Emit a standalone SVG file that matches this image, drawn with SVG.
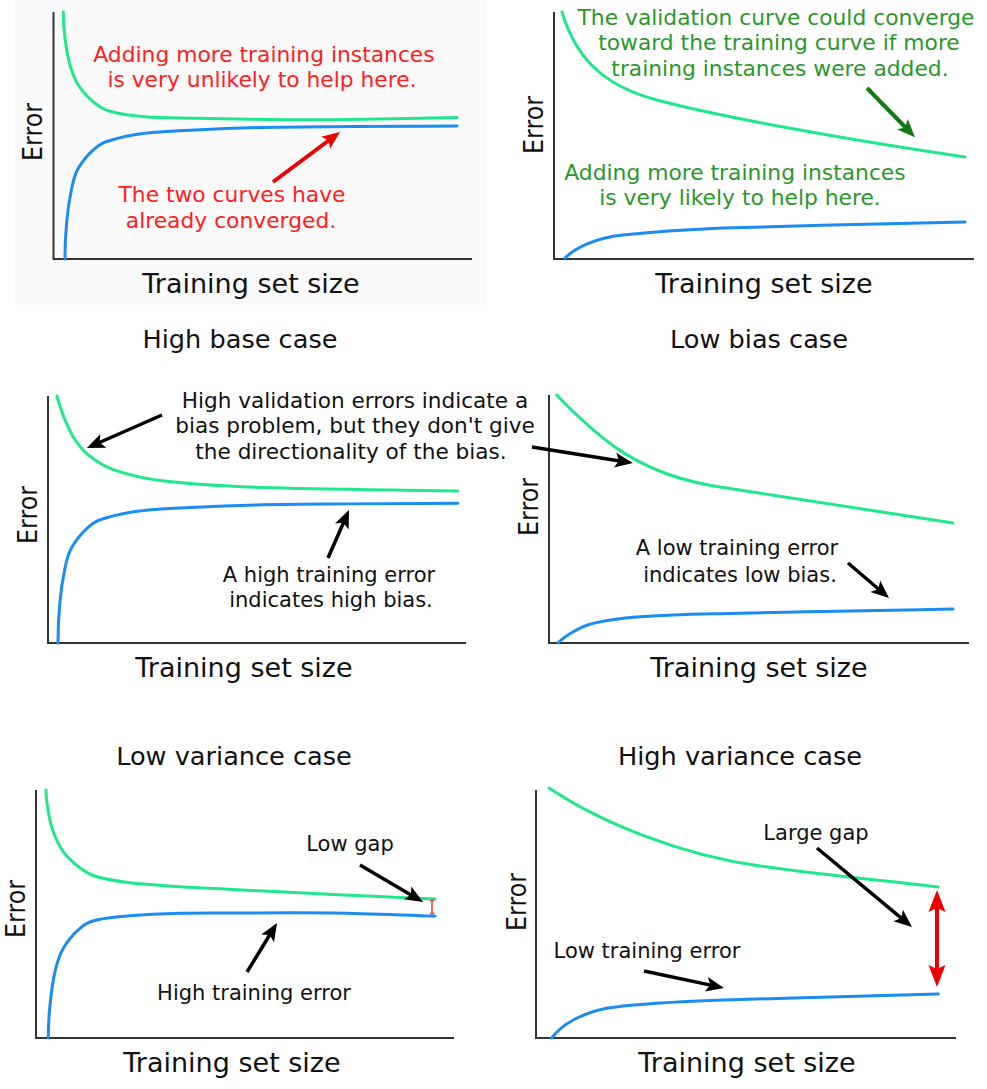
<svg xmlns="http://www.w3.org/2000/svg" width="987" height="1089" viewBox="0 0 987 1089">
<defs>
<style>
.ax{stroke:#333;stroke-width:2;fill:none}
.val{stroke:#1ee88c;stroke-width:3;fill:none;stroke-linecap:round}
.trn{stroke:#1a8cf2;stroke-width:3;fill:none;stroke-linecap:round}
text{font-family:"DejaVu Sans","Liberation Sans",sans-serif;text-anchor:middle}
.lbl{font-size:27px;fill:#111}
.ttl{font-size:25.6px;fill:#111}
.ann{font-size:21px;fill:#111}
.ann2{font-size:21.6px;fill:#111}
.red{font-size:21.8px;fill:#ff2020}
.grn{font-size:21.8px;fill:#2a982a}
.ab{stroke:#000;stroke-width:3.5;fill:none}
</style>
<marker id="ahB" viewBox="-10 -9 22 18" refX="0" refY="0" markerWidth="22" markerHeight="18" markerUnits="userSpaceOnUse" orient="auto"><path d="M10,0 L-8,-7.5 L-4,0 L-8,7.5 Z" fill="#000"/></marker>
<marker id="ahR" viewBox="-10 -9 22 18" refX="0" refY="0" markerWidth="22" markerHeight="18" markerUnits="userSpaceOnUse" orient="auto"><path d="M10,0 L-8,-7.5 L-4,0 L-8,7.5 Z" fill="#ee0000"/></marker>
<marker id="ahG" viewBox="-10 -9 22 18" refX="0" refY="0" markerWidth="22" markerHeight="18" markerUnits="userSpaceOnUse" orient="auto"><path d="M10,0 L-8,-7.5 L-4,0 L-8,7.5 Z" fill="#137a13"/></marker>
<marker id="ahRB" viewBox="-12 -10 26 20" refX="0" refY="0" markerWidth="26" markerHeight="20" markerUnits="userSpaceOnUse" orient="auto-start-reverse"><path d="M12,0 L-10,-8.5 L-6,0 L-10,8.5 Z" fill="#ee0000"/></marker>
</defs>
<rect width="987" height="1089" fill="#fff"/>

<g id="panel-high-bias">
<rect x="15" y="0" width="472" height="305" fill="#fafafa"/>
<path class="ax" d="M53.5,12 V259 H472"/>
<path class="val" d="M63.3,12 C63.3,20.8 63.9,29.5 65,38.3 C66.1,47.1 67.8,57.2 70,65 C72.2,72.8 74.1,78.6 78.3,85 C82.5,91.4 89.4,98.9 95,103.3 C100.6,107.8 103.4,109.5 111.7,111.7 C120,113.9 131.1,115.6 145,116.7 C158.9,117.8 174.2,117.8 195,118.3 C215.8,118.8 244.2,119.3 270,119.5 C295.8,119.7 318.8,119.8 350,119.5 C381.2,119.2 421.3,118.2 457,117.5"/>
<path class="trn" d="M65,259 C65,246.6 65.6,233.5 66.7,221.7 C67.8,209.9 69.8,197.2 71.7,188.3 C73.6,179.4 74.4,175 78.3,168.3 C82.2,161.6 89.4,153 95,148.3 C100.6,143.6 103.4,142.5 111.7,140 C120,137.5 131.1,135 145,133.3 C158.9,131.6 175.8,131 195,130 C214.2,129 234.2,128.1 260,127.5 C285.8,126.9 317.2,126.8 350,126.5 C382.8,126.3 421.3,126.2 457,126"/>
<text class="lbl" transform="translate(42,132) rotate(-90)" textLength="58" lengthAdjust="spacingAndGlyphs">Error</text>
<text class="lbl" x="251" y="293">Training set size</text>
<text class="ttl" x="240" y="348">High base case</text>
<text class="red" x="264" y="62">Adding more training instances</text>
<text class="red" x="262" y="87">is very unlikely to help here.</text>
<text class="red" x="232" y="202">The two curves have</text>
<text class="red" x="231" y="228">already converged.</text>
</g>

<g id="panel-low-bias">
<path class="ax" d="M554,12 V259 H974"/>
<path class="val" d="M562,12 C575,55 600,85 657,100 C720,117 850,140 965,157"/>
<path class="trn" d="M565,258 C575,248 595,238 623,235 C660,231 700,229 723,228 C800,226 900,223 965,222"/>
<text class="lbl" transform="translate(543,125) rotate(-90)" textLength="58" lengthAdjust="spacingAndGlyphs">Error</text>
<text class="lbl" x="764" y="293">Training set size</text>
<text class="ttl" x="759" y="348">Low bias case</text>
<text class="grn" x="776" y="25">The validation curve could converge</text>
<text class="grn" x="779" y="50">toward the training curve if more</text>
<text class="grn" x="780" y="76">training instances were added.</text>
<text class="grn" x="735" y="180">Adding more training instances</text>
<text class="grn" x="740" y="205">is very likely to help here.</text>
</g>

<g id="panel-low-variance">
<path class="ax" d="M48,396 V643 H466"/>
<path class="val" d="M57,396 C57.6,399.3 58.6,401.8 60,406 C61.4,410.2 63.1,415.5 65.5,421 C67.9,426.5 70.7,433.3 74.5,439 C78.3,444.7 82.2,450 88.5,455 C94.8,460.1 100.2,465 112.5,469.3 C124.8,473.6 137.5,477.8 162.5,480.8 C187.5,483.9 213.25,485.9 262.5,487.6 C311.75,489.3 392.8,489.9 458,491"/>
<path class="trn" vector-effect="non-scaling-stroke" transform="matrix(1.02,0,0,1.05,-8.3,371.05)" d="M65,259 C65,246.6 65.6,233.5 66.7,221.7 C67.8,209.9 69.8,197.2 71.7,188.3 C73.6,179.4 74.4,175 78.3,168.3 C82.2,161.6 89.4,153 95,148.3 C100.6,143.6 103.4,142.5 111.7,140 C120,137.5 131.1,135 145,133.3 C158.9,131.6 175.8,131 195,130 C214.2,129 234.2,128.1 260,127.5 C285.8,126.9 317.2,126.8 350,126.5 C382.8,126.3 421.3,126.2 457,126"/>
<text class="lbl" transform="translate(37,515) rotate(-90)" textLength="58" lengthAdjust="spacingAndGlyphs">Error</text>
<text class="lbl" x="244" y="677">Training set size</text>
<text class="ttl" x="234" y="765">Low variance case</text>
<text class="ann" x="329" y="582">A high training error</text>
<text class="ann" x="331" y="607">indicates high bias.</text>
</g>

<g id="bias-note">
<text class="ann2" x="355" y="408">High validation errors indicate a</text>
<text class="ann2" x="355" y="433">bias problem, but they don't give</text>
<text class="ann2" x="351" y="459">the directionality of the bias.</text>
</g>

<g id="panel-high-variance">
<path class="ax" d="M549,395 V643 H969"/>
<path class="val" d="M556.7,395 C600,440 640,475 720,487 C800,499 880,511 953,523"/>
<path class="trn" d="M558,643 C562,638.5 568,634.8 573.3,631.7 C578.6,628.6 581.7,626.5 590,624.3 C598.3,622.1 609.4,619.85 623.3,618.3 C637.2,616.75 653.85,615.8 673.3,615 C692.75,614.2 710.55,614 740,613.3 C769.45,612.6 814.5,611.7 850,611 C885.5,610.3 918.7,609.7 953,609"/>
<text class="lbl" transform="translate(538,507) rotate(-90)" textLength="58" lengthAdjust="spacingAndGlyphs">Error</text>
<text class="lbl" x="759" y="677">Training set size</text>
<text class="ttl" x="740" y="765">High variance case</text>
<text class="ann" x="737" y="555">A low training error</text>
<text class="ann" x="740" y="582">indicates low bias.</text>
</g>

<g id="panel-low-gap">
<path class="ax" d="M36,790 V1038 H454"/>
<path class="val" d="M46,790 C46,797.2 47.1,804.75 48.3,811.7 C49.5,818.65 50.8,825 53.3,831.7 C55.8,838.4 58.85,845.65 63.3,851.7 C67.75,857.75 74.4,863.8 80,868 C85.6,872.2 88.4,874.25 96.7,876.7 C105,879.15 116.1,881 130,882.7 C143.9,884.4 162.8,885.6 180,886.7 C197.2,887.8 207.5,888.2 233,889.5 C258.5,890.8 299.3,892.9 333,894.5 C366.7,896.1 401,897.5 435,899"/>
<path class="trn" d="M48.3,1038 C48.3,1027 48.9,1016.1 50,1005 C51.1,993.95 52.8,981.2 55,971.7 C57.2,962.25 59.1,955.5 63.3,948.3 C67.5,941.1 74.4,933 80,928.3 C85.6,923.6 88.4,922.1 96.7,920 C105,917.9 116.1,916.8 130,915.7 C143.9,914.6 162.8,913.75 180,913.3 C197.2,912.85 207.5,913.05 233,913 C258.5,912.95 299.3,912.5 333,913 C366.7,913.5 401,915 435,916"/>
<path d="M432,900.5 V913.5 M430,900.5 H434 M430,913.5 H434" stroke="#ff3030" stroke-width="1.5" fill="none"/>
<text class="lbl" transform="translate(25,909) rotate(-90)" textLength="58" lengthAdjust="spacingAndGlyphs">Error</text>
<text class="lbl" x="232" y="1072">Training set size</text>
<text class="ann" x="350" y="851">Low gap</text>
<text class="ann" x="254" y="1000">High training error</text>
</g>

<g id="panel-large-gap">
<path class="ax" d="M536,790 V1038 H956"/>
<path class="val" d="M549,788 C600,822 680,855 760,866 C830,876 900,882 938,887"/>
<path class="trn" d="M551.7,1038 C557,1031 564.1,1024.95 573.3,1020 C582.5,1015 592.8,1011.1 606.7,1008.3 C620.6,1005.5 637.3,1004.7 656.7,1003.3 C676.1,1001.9 694.4,1001 723.3,1000 C752.2,999 794.2,998 830,997 C865.8,996 902.2,995 938.3,994"/>
<text class="lbl" transform="translate(526,902) rotate(-90)" textLength="58" lengthAdjust="spacingAndGlyphs">Error</text>
<text class="lbl" x="747" y="1072">Training set size</text>
<text class="ann" x="816" y="840">Large gap</text>
<text class="ann" x="647" y="958">Low training error</text>
</g>

<g id="connectors">
<line x1="273" y1="182" x2="332" y2="138" stroke="#ee0000" stroke-width="4" marker-end="url(#ahR)"/>
<line x1="867" y1="88" x2="908" y2="130" stroke="#137a13" stroke-width="4" marker-end="url(#ahG)"/>
<line class="ab" x1="162" y1="415" x2="96" y2="444" marker-end="url(#ahB)"/>
<line class="ab" x1="532" y1="447" x2="623" y2="461.4" marker-end="url(#ahB)"/>
<line class="ab" x1="328" y1="558" x2="345" y2="519.2" marker-end="url(#ahB)"/>
<line class="ab" x1="848" y1="563" x2="881.4" y2="591.5" marker-end="url(#ahB)"/>
<line class="ab" x1="360" y1="865" x2="414.4" y2="896.9" marker-end="url(#ahB)"/>
<line class="ab" x1="247" y1="972" x2="271.8" y2="931.5" marker-end="url(#ahB)"/>
<line class="ab" x1="817" y1="848" x2="904.3" y2="920.6" marker-end="url(#ahB)"/>
<line class="ab" x1="644" y1="971" x2="714.2" y2="985.9" marker-end="url(#ahB)"/>
<line x1="937" y1="902" x2="937" y2="975" stroke="#ee0000" stroke-width="4" marker-start="url(#ahRB)" marker-end="url(#ahRB)"/>
</g>
</svg>
